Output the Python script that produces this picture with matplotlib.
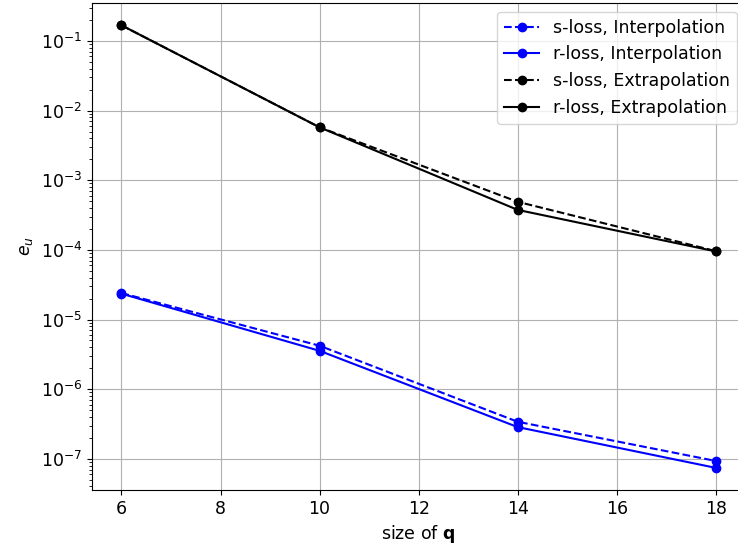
import numpy as np
import matplotlib.pyplot as plt

plt.rcParams['font.size'] = 12.5

q_size = [6, 10, 14, 18]

s_interp = [2.4e-5, 4.2e-6, 3.4e-7, 9.3e-8]
r_interp = [2.35e-5, 3.55e-6, 2.85e-7, 7.4e-8]
s_extrap = [0.168, 5.75e-3, 4.9e-4, 9.6e-5]
r_extrap = [0.168, 5.75e-3, 3.75e-4, 9.5e-5]

fig = plt.figure(figsize=(7.38, 5.52), dpi=100)
ax = fig.add_axes([0.1243, 0.1123, 0.886, 0.882])

ax.semilogy(q_size, s_interp, 'b--o', label='s-loss, Interpolation')
ax.semilogy(q_size, r_interp, 'b-o', label='r-loss, Interpolation')
ax.semilogy(q_size, s_extrap, 'k--o', label='s-loss, Extrapolation')
ax.semilogy(q_size, r_extrap, 'k-o', label='r-loss, Extrapolation')

ax.set_xlabel(r'size of $\mathbf{q}$')
ax.set_ylabel(r'$e_u$')
ax.grid(True)
ax.legend(loc='upper right')

fig.savefig('out.png', dpi=100)
